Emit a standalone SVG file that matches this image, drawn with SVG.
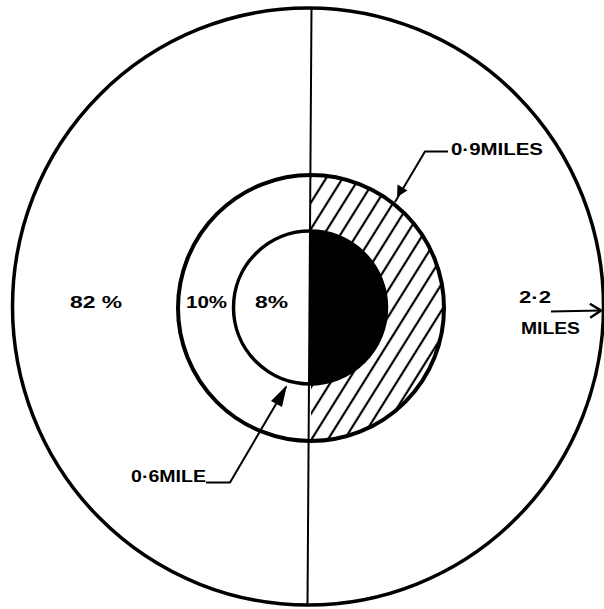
<svg xmlns="http://www.w3.org/2000/svg" width="604" height="609" viewBox="0 0 604 609">
<style>
.ring{fill:none;stroke:#000}
.lbl{font-family:"Liberation Sans","DejaVu Sans",Arial,sans-serif;font-weight:bold;font-size:17px;fill:#000}
.lead{fill:none;stroke:#000;stroke-width:2;stroke-linejoin:round}
</style>
<defs>
<pattern id="hatch" patternUnits="userSpaceOnUse" width="14" height="14" patternTransform="rotate(32)">
<line x1="7" y1="-1" x2="7" y2="15" stroke="#000" stroke-width="2.2"/>
</pattern>
<clipPath id="rightHalf">
<path d="M311 175 A133 133 0 0 1 311 441 Z"/>
</clipPath>
<marker id="openHead" markerWidth="14" markerHeight="16" refX="12" refY="8" orient="auto" markerUnits="userSpaceOnUse">
<path d="M1 1 L12 8 L1 15" fill="none" stroke="#000" stroke-width="2.5"/>
</marker>
</defs>
<rect width="604" height="609" fill="#fff"/>
<g id="outer-ring">
<ellipse class="ring" cx="308" cy="306.5" rx="295.5" ry="298.5" stroke-width="3.5"/>
</g>
<g id="middle-ring">
<rect x="311" y="170" width="140" height="280" fill="url(#hatch)" clip-path="url(#rightHalf)"/>
<circle class="ring" cx="311" cy="308" r="133" stroke-width="4"/>
</g>
<g id="inner-circle">
<path d="M310 231 A76.5 76.5 0 0 1 310 384 Z" fill="#000"/>
<circle class="ring" cx="310" cy="307.5" r="76.5" stroke-width="3.5"/>
</g>
<g id="divider">
<line x1="311.5" y1="8" x2="307.5" y2="605" stroke="#000" stroke-width="2"/>
</g>
<g id="connectors">
<polyline class="lead" points="448,151.5 425,151.5 395,202"/>
<path d="M397 197 L397.5 184.5 L407.5 190.5 Z" fill="#000"/>
<polyline class="lead" points="206,482.5 230,482.5 286,387"/>
<path d="M287 385 L271 401 L282 407 Z" fill="#000"/>
<line x1="551" y1="311.5" x2="601" y2="310.5" stroke="#000" stroke-width="2.2" marker-end="url(#openHead)"/>
</g>
<g id="labels">
<text class="lbl" x="70" y="308" textLength="52" lengthAdjust="spacingAndGlyphs">82 %</text>
<text class="lbl" x="186" y="308" textLength="41" lengthAdjust="spacingAndGlyphs">10%</text>
<text class="lbl" x="255" y="308" textLength="33" lengthAdjust="spacingAndGlyphs">8%</text>
<text class="lbl" x="451" y="155" textLength="92" lengthAdjust="spacingAndGlyphs">0·9MILES</text>
<text class="lbl" x="131" y="482" textLength="75" lengthAdjust="spacingAndGlyphs">0·6MILE</text>
<text class="lbl" x="519" y="303" textLength="32" lengthAdjust="spacingAndGlyphs">2·2</text>
<text class="lbl" x="521" y="334" textLength="59" lengthAdjust="spacingAndGlyphs">MILES</text>
</g>
</svg>
